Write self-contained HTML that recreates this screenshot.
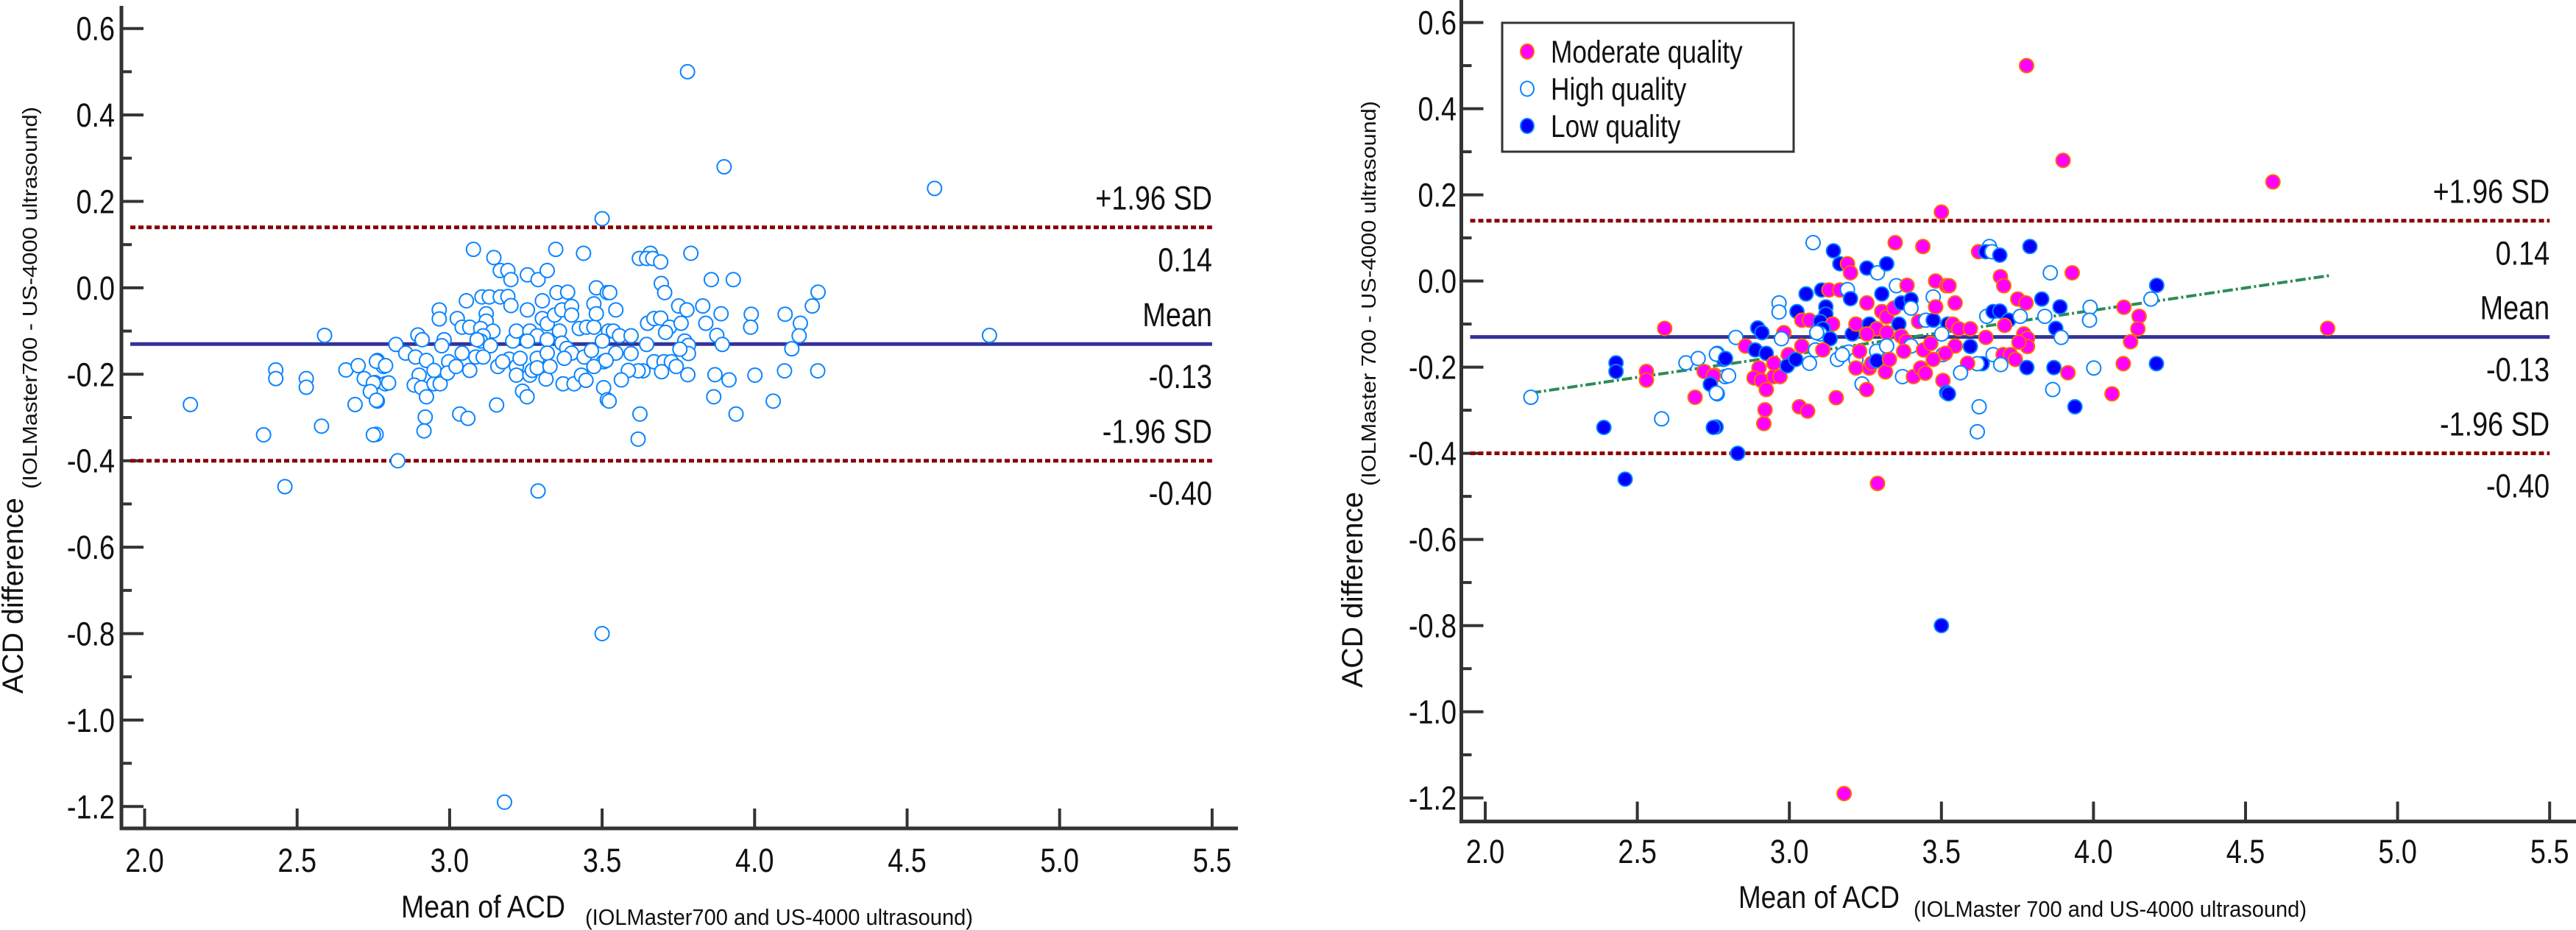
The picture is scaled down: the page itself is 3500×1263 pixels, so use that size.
<!DOCTYPE html>
<html><head><meta charset="utf-8"><style>
html,body{margin:0;padding:0;background:#fff;}
svg{display:block;font-family:"Liberation Sans",Arial,sans-serif;}
</style></head><body>
<svg id="chart" width="3500" height="1263" viewBox="0 0 3500 1263" xmlns="http://www.w3.org/2000/svg">
<g id="left"></g>
<g id="right"></g>
</svg>
<script>
// data: mean of ACD, difference, quality (M moderate, H high, L low)
const meanACD = [3.078,3.145,3.166,3.191,3.201,3.255,3.290,3.320,3.348,3.439,2.966,2.966,3.055,3.106,3.130,3.166,3.191,3.201,3.255,3.304,3.352,3.387,3.025,3.041,3.066,3.120,3.120,3.102,3.142,3.110,3.102,3.134,2.896,2.910,2.982,2.974,2.824,2.856,2.888,2.924,2.783,2.763,2.755,2.789,2.763,2.759,2.900,2.884,2.908,2.924,2.949,2.969,2.949,2.997,2.993,3.021,3.066,2.920,2.916,3.033,3.060,3.154,3.041,3.086,3.110,3.158,3.195,3.219,3.207,3.219,3.263,3.287,3.320,3.255,3.231,3.219,3.263,3.271,3.287,3.320,3.287,3.316,3.329,3.239,3.254,3.304,3.320,3.344,3.368,3.400,3.400,3.360,3.368,3.384,3.400,3.376,3.372,3.408,3.432,3.447,3.425,3.449,3.473,3.473,3.481,3.481,3.517,3.521,3.441,3.465,3.505,3.473,3.505,3.517,3.501,3.174,3.090,
3.622,3.658,3.646,3.666,3.692,3.791,3.858,3.930,4.208,4.189,3.694,3.705,3.525,3.545,3.751,3.778,3.830,3.890,3.989,3.987,3.840,3.649,3.670,3.692,3.721,3.759,3.708,3.537,3.557,3.595,3.646,3.876,3.894,4.100,4.150,4.146,4.122,3.545,3.595,3.513,3.771,3.783,3.783,3.755,3.670,3.703,3.727,3.743,3.695,3.634,3.618,3.586,3.563,3.781,3.870,3.916,4.001,4.098,4.207,4.061,3.866,3.939,3.624,3.618,3.523,
3.78,3.90,4.59,3.50,4.77,3.29,3.50,3.18,2.59,2.15,2.39,2.46,2.43,2.43,2.53,2.53,2.58,2.69,2.66,2.70,2.72,2.75,2.74,2.76,2.75,2.83,2.76,2.79,2.80];
const diffACD = [0.089,0.070,0.040,0.040,0.019,0.030,0.019,0.040,0.089,0.080,-0.051,-0.072,-0.030,-0.021,-0.021,-0.021,-0.020,-0.041,-0.051,-0.030,-0.011,-0.010,-0.071,-0.091,-0.091,-0.060,-0.077,-0.094,-0.100,-0.111,-0.123,-0.134,-0.109,-0.120,-0.120,-0.134,-0.131,-0.151,-0.160,-0.168,-0.182,-0.168,-0.219,-0.222,-0.262,-0.339,-0.202,-0.225,-0.231,-0.252,-0.222,-0.222,-0.191,-0.171,-0.197,-0.182,-0.191,-0.299,-0.331,-0.292,-0.302,-0.271,-0.151,-0.160,-0.160,-0.182,-0.165,-0.182,-0.123,-0.100,-0.100,-0.111,-0.120,-0.123,-0.163,-0.202,-0.202,-0.191,-0.163,-0.151,-0.185,-0.211,-0.182,-0.239,-0.252,-0.071,-0.083,-0.063,-0.051,-0.043,-0.063,-0.100,-0.128,-0.140,-0.151,-0.163,-0.222,-0.222,-0.202,-0.214,-0.094,-0.091,-0.091,-0.037,-0.060,0.000,-0.011,-0.100,-0.160,-0.145,-0.171,-0.182,-0.231,-0.259,-0.123,-0.171,-0.120,
0.068,0.080,0.068,0.068,0.060,0.080,0.019,0.019,-0.010,-0.042,0.010,-0.011,-0.011,-0.051,-0.042,-0.051,-0.042,-0.060,-0.061,-0.091,-0.082,-0.082,-0.071,-0.070,-0.091,-0.082,-0.103,-0.100,-0.111,-0.111,-0.131,-0.110,-0.131,-0.061,-0.082,-0.111,-0.141,-0.151,-0.152,-0.168,-0.123,-0.133,-0.152,-0.142,-0.171,-0.171,-0.171,-0.182,-0.194,-0.192,-0.192,-0.191,-0.213,-0.201,-0.201,-0.213,-0.202,-0.192,-0.192,-0.262,-0.252,-0.292,-0.292,-0.350,-0.262,
0.50,0.28,0.23,0.16,-0.11,-0.47,-0.80,-1.19,-0.11,-0.27,-0.34,-0.46,-0.19,-0.21,-0.21,-0.23,-0.32,-0.27,-0.19,-0.18,-0.21,-0.22,-0.24,-0.26,-0.34,-0.40,-0.17,-0.18,-0.22];
const quality = "HLLMMLHLMMHHLLMMHLMLHMLMMLLLMLHLLLMHHMLLLHMHHLMMMMMMMMLLHMMMMMMHMHHHLMLMMMMMMMHHLMMHMMMMLLHLMMHMHMMMMHLHMMMLMMHMMLHHH"+
 "MHLHLLHMLHMMMMMMLLHHHHLLLHMMMMMLHMMMMMLMMMMMHMMMHLHMHLLMHMLMHLHHL"+
 "MMMMMMLMMHLLLLMMHMHHMMLHLLHLH";
const xTicks = [2.0,2.5,3.0,3.5,4.0,4.5,5.0,5.5];
const yTicks = [0.6,0.4,0.2,0.0,-0.2,-0.4,-0.6,-0.8,-1.0,-1.2];
const yMinor = [0.5,0.3,0.1,-0.1,-0.3,-0.5,-0.7,-0.9,-1.1];
const limitValues = [0.14,-0.13,-0.40];
const limitNames = ["+1.96 SD","Mean","-1.96 SD"];
const limitPrinted = ["0.14","-0.13","-0.40"];
const regX = [2.15,4.78];
const regY = [-0.26,0.013];
const legendNames = ["Moderate quality","High quality","Low quality"];
const legendKeys = ["M","H","L"];

const NS="http://www.w3.org/2000/svg";
function mk(parent,tag,attrs,text){const e=document.createElementNS(NS,tag);for(const k in attrs)e.setAttribute(k,attrs[k]);if(text!==undefined)e.textContent=text;parent.appendChild(e);return e;}
const styles={
 M:{fill:"#ff00ff",stroke:"#ff6a00"},
 H:{fill:"#ffffff",stroke:"#0a84ff"},
 L:{fill:"#0000ff",stroke:"#0a84ff"}
};
function panel(g,cfg){
 const sx=v=>cfg.x0+(v-2)*cfg.xu;
 const sy=v=>cfg.y0-v*cfg.yu;
 // axes
 const ya=mk(g,"line",{x1:cfg.ax,y1:cfg.axTop,x2:cfg.ax,y2:cfg.ay+2.5,stroke:"#333",'stroke-width':5});
 
 const xa=mk(g,"line",{x1:cfg.ax-2.5,y1:cfg.ay,x2:cfg.axRight,y2:cfg.ay,stroke:"#333",'stroke-width':5});
 
 yTicks.forEach(v=>{
  const t=mk(g,"line",{x1:cfg.ax,y1:sy(v),x2:cfg.ax+30,y2:sy(v),stroke:"#333",'stroke-width':4});
  
  const l=mk(g,"text",{transform:`translate(${cfg.ylabR},${sy(v)+16}) scale(0.84,1)`,'font-size':45,'text-anchor':'end',fill:'#111'},v.toFixed(1));
  
 });
 yMinor.forEach(v=>{
  const t=mk(g,"line",{x1:cfg.ax,y1:sy(v),x2:cfg.ax+14,y2:sy(v),stroke:"#333",'stroke-width':4});
  
 });
 xTicks.forEach(v=>{
  const t=mk(g,"line",{x1:sx(v),y1:cfg.ay,x2:sx(v),y2:cfg.ay-27,stroke:"#333",'stroke-width':4});
  
  const l=mk(g,"text",{transform:`translate(${sx(v)},${cfg.xlabY}) scale(0.84,1)`,'font-size':45,'text-anchor':'middle',fill:'#111'},v.toFixed(1));
  
 });
 const xEnd=sx(5.5);
 limitValues.forEach((v,i)=>{
  const isMean=i===1;
  const ln=mk(g,"line",{x1:cfg.ax+12,y1:sy(v),x2:xEnd,y2:sy(v),stroke:isMean?"#333399":"#8b0000",'stroke-width':5,'stroke-dasharray':isMean?"none":"7 4"});
  
  
  const n=mk(g,"text",{transform:`translate(${xEnd},${sy(v)-24}) scale(0.84,1)`,'font-size':45,'text-anchor':'end',fill:'#111'},limitNames[i]);
  
  const p=mk(g,"text",{transform:`translate(${xEnd},${sy(v)+60}) scale(0.84,1)`,'font-size':45,'text-anchor':'end',fill:'#111'},limitPrinted[i]);
  
 });
 if(cfg.reg){
  const r=mk(g,"line",{x1:sx(regX[0]),y1:sy(regY[0]),x2:sx(regX[1]),y2:sy(regY[1]),stroke:"#2e8b57",'stroke-width':4,'stroke-dasharray':"14 4 3 4"});
  
 }
 meanACD.forEach((x,i)=>{
  const q=cfg.colored?quality[i]:"H";
  const s=styles[q];
  const c=mk(g,"circle",{cx:sx(x),cy:sy(diffACD[i]),r:9.5,fill:s.fill,stroke:s.stroke,'stroke-width':2});
  
 });
 // titles
 const t1=mk(g,"text",{x:cfg.xt[0],y:cfg.xt[1],'font-size':43,textLength:cfg.xt[2],lengthAdjust:'spacingAndGlyphs',fill:'#111'},"Mean of ACD");
 
 const t2=mk(g,"text",{x:cfg.xs[0],y:cfg.xs[1],'font-size':31,textLength:cfg.xs[2],lengthAdjust:'spacingAndGlyphs',fill:'#111'},cfg.xsText);
 
 const t3=mk(g,"text",{transform:`translate(${cfg.yt[0]},${cfg.yt[1]}) rotate(-90)`,'font-size':40,textLength:cfg.yt[2],lengthAdjust:'spacingAndGlyphs',fill:'#111'},"ACD difference");
 
 const t4=mk(g,"text",{transform:`translate(${cfg.ys[0]},${cfg.ys[1]}) rotate(-90)`,'font-size':28,textLength:cfg.ys[2],lengthAdjust:'spacingAndGlyphs',fill:'#111'},cfg.ysText);
 
 if(cfg.legend){
  const lg=mk(g,"g",{});
  
  const b=mk(lg,"rect",{x:2041,y:31,width:396,height:175,fill:'#fff',stroke:'#333','stroke-width':3});
  
  legendNames.forEach((n,i)=>{
   const yy=70+i*50.5;
   const s=styles[legendKeys[i]];
   const m=mk(lg,"ellipse",{cx:2075,cy:yy,rx:9,ry:10,fill:s.fill,stroke:s.stroke,'stroke-width':2});
   
   const t=mk(lg,"text",{transform:`translate(2107,${yy+15}) scale(0.82,1)`,'font-size':43,fill:'#111'},n);
   
  });
 }
}
panel(document.getElementById('left'),{x0:196.5,xu:414.4,y0:390.9,yu:587,ax:165,ay:1125,axTop:8,axRight:1682,ylabR:156,xlabY:1184,
 xt:[545,1246,223],xs:[795,1256,527],xsText:"(IOLMaster700 and US-4000 ultrasound)",
 yt:[31,942,266],ys:[50,664,519],ysText:"(IOLMaster700 - US-4000 ultrasound)",reg:false,colored:false,legend:false});
panel(document.getElementById('right'),{x0:2018,xu:413.2,y0:381.6,yu:585,ax:1985.5,ay:1115.6,axTop:0,axRight:3500,ylabR:1979,xlabY:1172,
 xt:[2362,1233,219],xs:[2600,1245,534],xsText:"(IOLMaster 700 and US-4000 ultrasound)",
 yt:[1851,934,266],ys:[1869,660,523],ysText:"(IOLMaster 700 - US-4000 ultrasound)",reg:true,colored:true,legend:true});
</script>
</body></html>
